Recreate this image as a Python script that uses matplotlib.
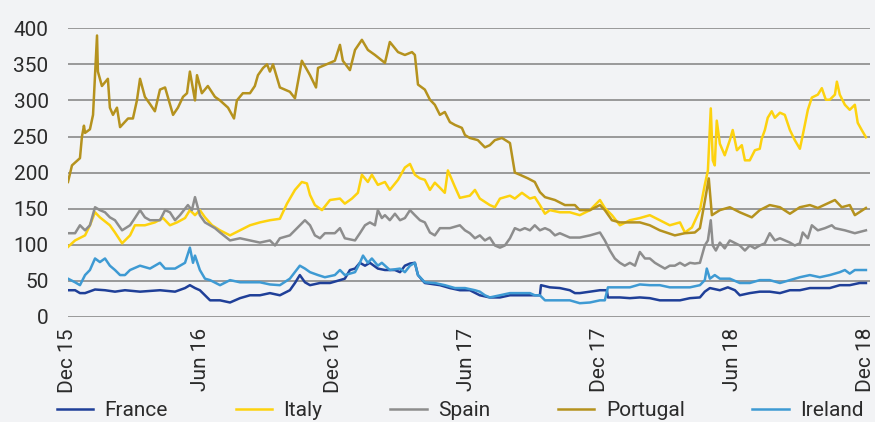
import matplotlib
matplotlib.use("Agg")
import matplotlib.pyplot as plt

plt.rcParams['font.family'] = ['Roboto', 'DejaVu Sans']

# x values are months since Dec 2015
tick_months = [0, 6, 12, 18, 24, 30, 36]
tick_labels = ['Dec 15', 'Jun 16', 'Dec 16', 'Jun 17', 'Dec 17', 'Jun 18', 'Dec 18']

fr_m = [0, 0.32, 0.54, 0.77, 1.22, 1.67, 2.12, 2.57, 3.25, 4.15, 4.83, 5.28, 5.50, 5.73, 5.95, 6.18, 6.41, 6.86,
        7.31, 7.76, 8.21, 8.66, 9.11, 9.56, 10.01, 10.24, 10.46, 10.69, 10.92, 11.37, 11.82, 12.27, 12.49, 12.72,
        12.95, 13.17, 13.40, 13.62, 13.98, 14.30, 14.75, 14.98, 15.20, 15.43, 15.65, 15.79, 16.10, 16.78, 17.23,
        17.68, 18.13, 18.58, 19.03, 19.49, 19.94, 20.39, 20.84, 21.29, 21.34, 21.74, 22.19, 22.64, 22.87, 23.09,
        23.55, 24.00, 24.31, 24.36, 24.90, 25.35, 25.80, 26.25, 26.70, 27.15, 27.61, 28.06, 28.51, 28.73, 28.96,
        29.41, 29.77, 30.09, 30.31, 30.76, 31.21, 31.66, 32.12, 32.57, 33.02, 33.47, 33.92, 34.37, 34.82, 35.27,
        35.72, 36.00]
fr_v = [37, 37, 33, 33, 38, 37, 35, 37, 35, 37, 35, 40, 44, 40, 37, 30, 23, 23,
        20, 26, 30, 30, 33, 30, 37, 47, 58, 48, 44, 47, 47, 51, 53, 65,
        67, 75, 71, 75, 67, 65, 65, 62, 71, 74, 75, 58, 47, 44, 40,
        37, 37, 30, 27, 27, 30, 30, 30, 30, 44, 41, 40, 37, 33, 33,
        35, 37, 37, 27, 27, 26, 27, 26, 23, 23, 23, 26, 27, 35, 40,
        37, 41, 37, 30, 33, 35, 35, 33, 37, 37, 40, 40, 40, 44, 44,
        47, 47]

it_m = [0, 0.32, 0.77, 0.99, 1.22, 1.44, 1.89, 2.12, 2.44, 2.80, 3.02, 3.47, 3.92, 4.29, 4.60, 4.92, 5.28, 5.50,
        5.73, 5.95, 6.18, 6.50, 6.86, 7.31, 7.76, 8.21, 8.66, 9.11, 9.56, 9.88, 10.24, 10.55, 10.78, 10.92, 11.14,
        11.46, 11.82, 12.27, 12.49, 12.81, 13.08, 13.26, 13.53, 13.71, 13.98, 14.30, 14.52, 14.89, 15.20, 15.43,
        15.65, 15.88, 16.10, 16.33, 16.55, 16.78, 17.00, 17.14, 17.46, 17.68, 18.13, 18.36, 18.58, 19.03, 19.26,
        19.49, 19.94, 20.16, 20.48, 20.84, 21.06, 21.29, 21.52, 21.74, 22.19, 22.64, 23.09, 23.55, 24.00, 24.22,
        24.54, 24.90, 25.35, 25.80, 26.25, 26.70, 27.15, 27.61, 27.83, 28.15, 28.51, 28.73, 28.87, 29.00, 29.09,
        29.18, 29.27, 29.41, 29.63, 29.86, 29.99, 30.18, 30.40, 30.54, 30.76, 30.99, 31.21, 31.30, 31.44, 31.57,
        31.75, 31.89, 32.12, 32.34, 32.57, 32.79, 33.02, 33.15, 33.38, 33.56, 33.83, 34.01, 34.19, 34.37, 34.60,
        34.69, 34.82, 35.05, 35.27, 35.50, 35.63, 35.81, 36.00]
it_v = [97, 106, 113, 127, 145, 138, 127, 117, 102, 113, 127, 127, 131, 137, 127, 131, 137, 148,
        141, 148, 138, 127, 120, 113, 120, 127, 131, 134, 136, 157, 176, 187, 185, 169, 155,
        148, 162, 164, 157, 164, 172, 197, 187, 197, 183, 187, 176, 190, 207, 212,
        197, 192, 190, 176, 186, 179, 172, 203, 180, 165, 168, 176, 164, 155, 152,
        164, 168, 164, 172, 164, 166, 155, 143, 148, 145, 145, 141, 148, 162, 151,
        141, 127, 134, 137, 141, 134, 127, 131, 117, 124, 148, 183, 203, 289, 217,
        210, 272, 240, 224, 245, 259, 231, 238, 217, 217, 231, 233, 247, 259, 276,
        285, 276, 283, 280, 259, 245, 233, 252, 287, 304, 308, 317, 301, 301, 308,
        326, 308, 294, 287, 294, 269, 259, 249]

es_m = [0, 0.32, 0.54, 0.77, 0.99, 1.22, 1.44, 1.67, 1.89, 2.12, 2.44, 2.80, 3.02, 3.25, 3.47, 3.70, 4.15, 4.38,
        4.60, 4.83, 5.05, 5.41, 5.59, 5.73, 5.95, 6.18, 6.41, 6.63, 6.86, 7.31, 7.76, 8.21, 8.66, 9.11, 9.34,
        9.56, 10.01, 10.46, 10.69, 10.92, 11.14, 11.37, 11.59, 12.04, 12.27, 12.49, 12.95, 13.17, 13.40, 13.62,
        13.85, 13.98, 14.16, 14.30, 14.52, 14.75, 14.98, 15.20, 15.43, 15.65, 15.88, 16.10, 16.33, 16.55, 16.78,
        17.23, 17.68, 17.91, 18.13, 18.36, 18.58, 18.81, 19.03, 19.26, 19.49, 19.71, 19.94, 20.16, 20.39, 20.61,
        20.84, 21.06, 21.29, 21.52, 21.74, 21.97, 22.19, 22.64, 23.09, 23.55, 24.00, 24.22, 24.45, 24.67, 24.90,
        25.12, 25.35, 25.58, 25.80, 26.03, 26.25, 26.48, 26.70, 26.93, 27.15, 27.38, 27.61, 27.83, 28.06, 28.28,
        28.51, 28.73, 28.87, 29.00, 29.09, 29.23, 29.41, 29.63, 29.86, 30.31, 30.54, 30.76, 30.99, 31.21, 31.44,
        31.66, 31.89, 32.12, 32.57, 32.79, 33.02, 33.15, 33.38, 33.56, 33.83, 34.15, 34.46, 34.60, 35.05, 35.50,
        36.00]
es_v = [116, 116, 127, 120, 127, 152, 148, 145, 138, 134, 120, 127, 137, 148, 138, 134, 134, 148,
        145, 134, 141, 155, 148, 166, 141, 131, 127, 123, 117, 106, 109, 106, 103, 106, 99,
        109, 113, 127, 134, 127, 113, 109, 116, 116, 123, 109, 106, 116, 127, 131,
        127, 148, 137, 141, 134, 143, 134, 137, 148, 141, 134, 131, 117, 113, 123,
        123, 127, 120, 116, 109, 113, 106, 110, 99, 96, 99, 109, 123, 120, 123,
        120, 127, 120, 123, 120, 113, 116, 110, 110, 113, 117, 106, 92, 81, 75,
        71, 75, 71, 90, 81, 81, 75, 71, 67, 71, 71, 75, 71, 75, 74,
        75, 99, 106, 134, 99, 92, 103, 95, 106, 99, 92, 99, 95, 99, 102,
        116, 106, 109, 103, 99, 102, 117, 109, 127, 120, 123, 127, 123, 120, 116,
        120]

pt_m = [0, 0.18, 0.54, 0.63, 0.72, 0.77, 0.99, 1.13, 1.31, 1.35, 1.53, 1.80, 1.89, 2.03, 2.21, 2.35, 2.71, 2.93,
        3.11, 3.25, 3.47, 3.70, 3.92, 4.15, 4.38, 4.60, 4.74, 4.96, 5.19, 5.37, 5.50, 5.73, 5.82, 6.04, 6.31,
        6.63, 6.86, 7.22, 7.49, 7.62, 7.89, 8.21, 8.43, 8.57, 8.80, 8.98, 9.11, 9.25, 9.56, 10.01, 10.24, 10.55,
        10.92, 11.19, 11.28, 11.82, 12.04, 12.27, 12.40, 12.72, 12.95, 13.26, 13.53, 13.85, 14.30, 14.52, 14.89,
        15.20, 15.52, 15.65, 15.79, 16.10, 16.33, 16.55, 16.78, 17.00, 17.23, 17.46, 17.77, 17.91, 18.13, 18.49,
        18.81, 19.03, 19.26, 19.58, 19.94, 20.16, 20.39, 20.75, 21.06, 21.29, 21.52, 21.97, 22.42, 22.87, 23.09,
        23.55, 24.00, 24.22, 24.54, 24.90, 25.35, 25.80, 26.25, 26.70, 27.38, 27.83, 28.28, 28.51, 28.73, 28.91,
        29.05, 29.41, 29.86, 30.31, 30.85, 31.21, 31.66, 32.12, 32.57, 33.02, 33.47, 33.83, 34.60, 34.91, 35.27,
        35.50, 36.00]
pt_v = [187, 210, 220, 250, 265, 255, 260, 280, 390, 340, 320, 330, 290, 280, 290, 263, 275, 275,
        300, 330, 305, 295, 285, 315, 318, 295, 280, 290, 305, 310, 340, 300, 335, 310, 320,
        305, 300, 290, 275, 300, 310, 310, 320, 335, 345, 350, 340, 350, 318, 312, 303, 355,
        335, 318, 345, 352, 355, 377, 355, 342, 370, 384, 370, 363, 352, 381, 367,
        363, 367, 363, 322, 315, 301, 294, 280, 284, 270, 266, 262, 252, 248, 245,
        235, 238, 245, 248, 241, 200, 197, 192, 187, 173, 166, 162, 155, 155, 148,
        148, 155, 148, 134, 131, 131, 131, 127, 120, 113, 116, 117, 123, 160, 192,
        141, 148, 152, 145, 138, 148, 155, 152, 143, 152, 155, 151, 162, 152, 155,
        141, 151]

ie_m = [0, 0.32, 0.54, 0.77, 0.99, 1.22, 1.44, 1.67, 1.89, 2.12, 2.35, 2.57, 2.80, 3.25, 3.70, 4.15, 4.38, 4.83,
        5.28, 5.50, 5.64, 5.73, 5.95, 6.18, 6.41, 6.86, 7.31, 7.76, 8.21, 8.66, 9.11, 9.56, 10.01, 10.46, 10.69,
        10.92, 11.28, 11.59, 12.04, 12.27, 12.49, 12.95, 13.17, 13.31, 13.53, 13.71, 13.98, 14.16, 14.52, 14.98,
        15.20, 15.43, 15.65, 15.79, 16.10, 16.55, 17.00, 17.46, 17.91, 18.36, 18.58, 18.81, 19.03, 19.49, 19.94,
        20.39, 20.84, 21.06, 21.29, 21.52, 22.19, 22.64, 23.09, 23.55, 24.00, 24.22, 24.36, 24.90, 25.35, 25.80,
        26.25, 26.70, 27.15, 27.61, 28.06, 28.51, 28.73, 28.82, 28.96, 29.18, 29.41, 29.86, 30.31, 30.76, 31.21,
        31.66, 32.12, 32.57, 33.02, 33.47, 33.92, 34.37, 34.82, 35.05, 35.27, 35.50, 36.00]
ie_v = [53, 48, 44, 58, 65, 81, 76, 81, 71, 65, 58, 58, 65, 71, 67, 75, 67, 67,
        75, 96, 75, 85, 65, 53, 51, 44, 51, 48, 48, 48, 45, 44, 53, 71, 67,
        62, 58, 55, 58, 65, 58, 62, 75, 85, 75, 81, 71, 75, 65, 67,
        62, 71, 75, 58, 48, 47, 44, 40, 40, 37, 35, 30, 27, 30, 33,
        33, 33, 30, 30, 23, 23, 23, 19, 20, 23, 23, 41, 41, 41, 45,
        44, 44, 41, 41, 41, 44, 51, 67, 53, 58, 53, 53, 47, 47, 51,
        51, 47, 51, 55, 58, 55, 58, 62, 65, 60, 65, 65]

fig = plt.figure(figsize=(8.75, 4.22), dpi=100, facecolor='#f2f3f5')
ax = fig.add_axes([0.0777, 0.249, 0.917, 0.684])
ax.set_facecolor('#f2f3f5')

ax.plot(fr_m, fr_v, color='#1f3f98', lw=1.8, label='France')
ax.plot(it_m, it_v, color='#fdd20e', lw=1.8, label='Italy')
ax.plot(es_m, es_v, color='#8d8d8d', lw=1.8, label='Spain')
ax.plot(pt_m, pt_v, color='#b5921e', lw=1.8, label='Portugal')
ax.plot(ie_m, ie_v, color='#3e9ad3', lw=1.8, label='Ireland')

ax.set_xlim(0, 36.2)
ax.set_ylim(0, 400)
ax.set_yticks(range(0, 401, 50))
ax.set_xticks(tick_months)
ax.set_xticklabels(tick_labels, rotation=90)
ax.yaxis.grid(True, color='#8a8a8a', lw=1.2)
ax.set_axisbelow(True)
ax.tick_params(length=0, labelsize=15, colors='#2b2b2b')
ax.tick_params(axis='y', pad=14)
ax.tick_params(axis='x', pad=8)
for s in ax.spines.values():
    s.set_visible(False)

# legend along the bottom
leg = fig.legend(loc='center', bbox_to_anchor=(0.526, 1 - 411 / 422), bbox_transform=fig.transFigure,
                 ncol=5, frameon=False, fontsize=15, handlelength=1.75, columnspacing=3.25,
                 handletextpad=0.55, borderpad=0, borderaxespad=0)
for t in leg.get_texts():
    t.set_color('#2b2b2b')

plt.savefig('out.png', dpi=100, facecolor=fig.get_facecolor())
